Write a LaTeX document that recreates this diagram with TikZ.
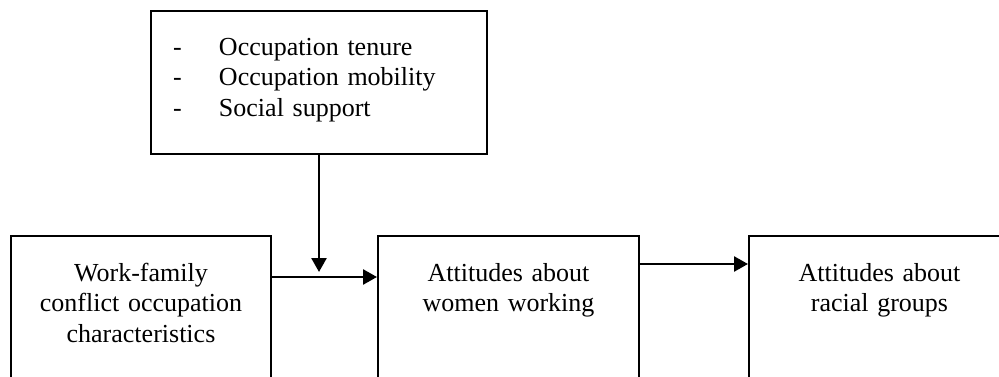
\documentclass[tikz,border=0pt]{standalone}
\usepackage{fontspec}
\setmainfont{Liberation Serif}
\usetikzlibrary{arrows.meta}

\begin{document}
\begin{tikzpicture}[x=1pt,y=-1pt,
  font=\fontsize{26pt}{30.5pt}\selectfont,
  blk/.style={draw,line width=2pt,anchor=north west,inner xsep=20pt,inner ysep=27pt,
    align=center,text width=#1,text depth=150pt},
  blk/.default=221pt,
  arr/.style={-{Triangle[length=14pt,width=15pt]},line width=2.6pt}]
\useasboundingbox (0,0) rectangle (999,377);
\clip (0,0) rectangle (999,377);
% moderators
\node[blk=292pt,align=left,inner xsep=22pt,text depth=72pt] (factors) at (150,10)
  {\makebox[46pt][l]{-}Occupation tenure\\
   \makebox[46pt][l]{-}Occupation mobility\\
   \makebox[46pt][l]{-}Social support};
% chain
\node[blk=220pt] (work) at (10,235) {Work-family\\conflict occupation\\characteristics};
\node[blk] (women) at (377,235) {Attitudes about\\women working};
\node[blk] (racial) at (748,235) {Attitudes about\\racial groups};
\draw[arr] ([yshift=-42pt]work.north east) -- ([yshift=-42pt]women.north west);
\draw[arr] ([yshift=-29pt]women.north east) -- ([yshift=-29pt]racial.north west);
\draw[arr] (factors.south) -- ([yshift=-37pt]factors.south |- work.north);
\end{tikzpicture}
\end{document}
